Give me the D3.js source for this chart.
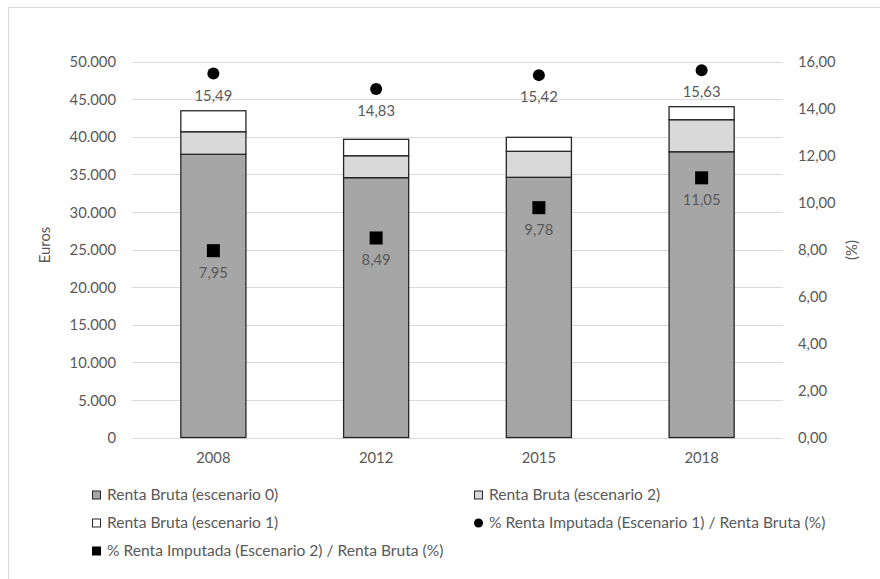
<!DOCTYPE html>
<html>
<head>
<meta charset="utf-8">
<script src="https://cdn.jsdelivr.net/npm/d3@7"></script>
<style>
  html, body { margin: 0; padding: 0; background: #ffffff; }
  svg text { font-family: Lato, "Open Sans", sans-serif; fill: #595959; }
</style>
</head>
<body>
<svg id="chart" width="880" height="579"></svg>
<script>
// Renta bruta por escenario (euros) y porcentajes de renta imputada
const years = ["2008", "2012", "2015", "2018"];
const rentaEsc0 = [37660, 34550, 34600, 38000];   // base
const rentaEsc2 = [3000, 2920, 3460, 4260];       // incremento escenario 2
const rentaEsc1 = [2790, 2180, 1860, 1730];       // incremento escenario 1
const pctEsc1 = [15.49, 14.83, 15.42, 15.63];
const pctEsc2 = [7.95, 8.49, 9.78, 11.05];
const leftTicks = [0, 5000, 10000, 15000, 20000, 25000, 30000, 35000, 40000, 45000, 50000];
const rightTicks = [0, 2, 4, 6, 8, 10, 12, 14, 16];

const svg = d3.select("#chart");
const plot = { left: 132, right: 783, top: 61.5, bottom: 437.5 };

const locale = d3.formatLocale({ decimal: ",", thousands: ".", grouping: [3], currency: ["", "€"] });
const fmtEuro = locale.format(",.0f");
const fmtPct = locale.format(",.2f");

// chart frame
svg.append("rect")
  .attr("x", 8.5).attr("y", 7.5).attr("width", 900).attr("height", 620)
  .attr("fill", "#ffffff").attr("stroke", "#d9d9d9").attr("stroke-width", 1);

const x = d3.scaleBand().domain(years).range([plot.left, plot.right])
  .paddingInner(0.6).paddingOuter(0.3);
const yL = d3.scaleLinear().domain([0, 50000]).range([plot.bottom, plot.top]);
const yR = d3.scaleLinear().domain([0, 16]).range([plot.bottom, plot.top]);

// horizontal gridlines
svg.append("g").selectAll("line").data(leftTicks).join("line")
  .attr("x1", plot.left).attr("x2", plot.right)
  .attr("y1", d => Math.round(yL(d)) + 0.5).attr("y2", d => Math.round(yL(d)) + 0.5)
  .attr("stroke", "#d9d9d9").attr("stroke-width", 1);

// left axis
const axL = svg.append("g").attr("transform", `translate(${plot.left},0)`)
  .call(d3.axisLeft(yL).tickValues(leftTicks).tickFormat(fmtEuro).tickSize(0).tickPadding(16));
axL.select(".domain").remove();
axL.selectAll("text").attr("font-size", 14.8).attr("fill", "#595959").attr("dy", "0.35em");

// right axis
const axR = svg.append("g").attr("transform", `translate(${plot.right},0)`)
  .call(d3.axisRight(yR).tickValues(rightTicks).tickFormat(fmtPct).tickSize(0).tickPadding(15));
axR.select(".domain").remove();
axR.selectAll("text").attr("font-size", 14.8).attr("fill", "#595959").attr("dy", "0.35em");

// bottom axis labels
const axB = svg.append("g").attr("transform", `translate(0,${plot.bottom})`)
  .call(d3.axisBottom(x).tickSize(0).tickPadding(15));
axB.select(".domain").remove();
axB.selectAll("text").attr("font-size", 14.8).attr("fill", "#595959");

// axis titles
svg.append("text").attr("transform", "translate(45,245) rotate(-90)")
  .attr("text-anchor", "middle").attr("dy", "0.35em").attr("font-size", 14.8).text("Euros");
svg.append("text").attr("transform", "translate(852,250) rotate(-90)")
  .attr("text-anchor", "middle").attr("dy", "0.35em").attr("font-size", 14.8).text("(%)");

// stacked bars
const rows = years.map((yr, i) => ({ year: yr, s0: rentaEsc0[i], s2: rentaEsc2[i], s1: rentaEsc1[i] }));
const stack = d3.stack().keys(["s0", "s2", "s1"])(rows);
const fills = { s0: "#a6a6a6", s2: "#d9d9d9", s1: "#ffffff" };

svg.append("g").selectAll("g").data(stack).join("g")
  .attr("fill", d => fills[d.key])
  .selectAll("rect").data(d => d).join("rect")
  .attr("x", d => x(d.data.year))
  .attr("width", x.bandwidth())
  .attr("y", d => yL(d[1]))
  .attr("height", d => yL(d[0]) - yL(d[1]))
  .attr("stroke", "#262626").attr("stroke-width", 1.3);

// circles: % renta imputada escenario 1
const cx = d => x(d) + x.bandwidth() / 2;
svg.append("g").selectAll("circle").data(years).join("circle")
  .attr("cx", cx).attr("cy", (d, i) => yR(pctEsc1[i])).attr("r", 6)
  .attr("fill", "#000000");
svg.append("g").selectAll("text").data(years).join("text")
  .attr("x", cx).attr("y", (d, i) => yR(pctEsc1[i]) + 22)
  .attr("dy", "0.35em").attr("text-anchor", "middle").attr("font-size", 14.8)
  .text((d, i) => fmtPct(pctEsc1[i]));

// squares: % renta imputada escenario 2
svg.append("g").selectAll("rect").data(years).join("rect")
  .attr("x", d => cx(d) - 6.5).attr("y", (d, i) => yR(pctEsc2[i]) - 6.5)
  .attr("width", 13).attr("height", 13).attr("fill", "#000000");
svg.append("g").selectAll("text").data(years).join("text")
  .attr("x", cx).attr("y", (d, i) => yR(pctEsc2[i]) + 22)
  .attr("dy", "0.35em").attr("text-anchor", "middle").attr("font-size", 14.8)
  .attr("fill", "#404040")
  .text((d, i) => fmtPct(pctEsc2[i]));

// legend
const legendItems = [
  { label: "Renta Bruta (escenario 0)", type: "rect", fill: "#a6a6a6", x: 92, y: 495 },
  { label: "Renta Bruta (escenario 2)", type: "rect", fill: "#d9d9d9", x: 474, y: 495 },
  { label: "Renta Bruta (escenario 1)", type: "rect", fill: "#ffffff", x: 92, y: 523 },
  { label: "% Renta Imputada (Escenario 1) / Renta Bruta (%)", type: "circle", fill: "#000000", x: 474, y: 523 },
  { label: "% Renta Imputada (Escenario 2) / Renta Bruta (%)", type: "square", fill: "#000000", x: 92, y: 551 }
];
const lg = svg.append("g").selectAll("g").data(legendItems).join("g")
  .attr("transform", d => `translate(${d.x},${d.y})`);
lg.filter(d => d.type === "rect").append("rect")
  .attr("x", 0.5).attr("y", -4).attr("width", 8).attr("height", 8)
  .attr("fill", d => d.fill).attr("stroke", "#262626").attr("stroke-width", 1);
lg.filter(d => d.type === "square").append("rect")
  .attr("x", 0).attr("y", -4.5).attr("width", 9).attr("height", 9).attr("fill", "#000000");
lg.filter(d => d.type === "circle").append("circle")
  .attr("cx", 4.5).attr("cy", 0).attr("r", 4.5).attr("fill", "#000000");
lg.append("text").attr("x", 15).attr("dy", "0.35em").attr("font-size", 15.6)
  .text(d => d.label);
</script>
</body>
</html>
